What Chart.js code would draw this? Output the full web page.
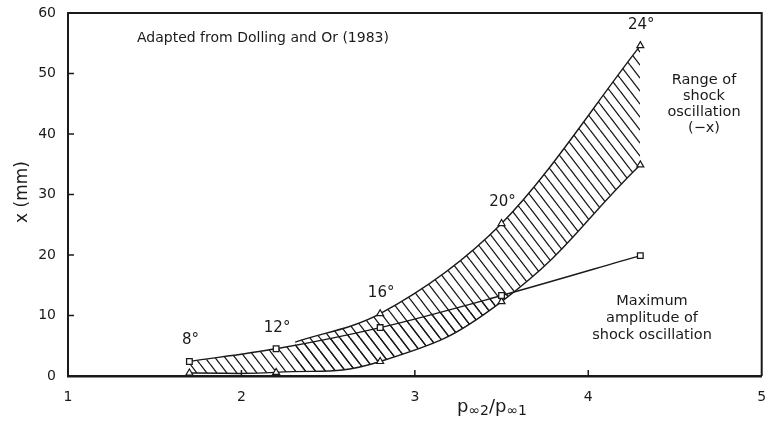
<!DOCTYPE html>
<html>
<head>
<meta charset="utf-8">
<title>Shock oscillation range</title>
<script src="https://cdn.jsdelivr.net/npm/chart.js@4.4.1/dist/chart.umd.min.js"></script>
<style>
  html, body { margin: 0; padding: 0; background: #fff; overflow: hidden; }
  canvas { display: block; }
</style>
</head>
<body>
<canvas id="shock" width="767" height="423"></canvas>
<script>
// pressure ratio p02/p01 at each ramp angle
const ratio = [1.7, 2.2, 2.8, 3.5, 4.3];
const angleLabels = ['8°', '12°', '16°', '20°', '24°'];
// maximum amplitude of shock oscillation (mm)
const maxAmplitude = [2.4, 4.5, 8.0, 13.3, 19.9];
// lower edge of the oscillation range (mm)
const rangeLower = [0.5, 0.6, 2.4, 12.3, 34.9];
// upper edge of the oscillation range (mm)
const rangeUpperX = [2.31, 2.8, 3.5, 4.3];
const rangeUpper = [5.6, 10.3, 25.2, 54.6];
const rangeUpperMarks = [false, true, true, true];

const xTicks = [1, 2, 3, 4, 5];
const yTicks = [0, 10, 20, 30, 40, 50, 60];

const INK = '#1a1a1a';
const FONT = '"DejaVu Sans", sans-serif';

function toPoints(xs, ys) {
    return xs.map((x, i) => ({ x: x, y: ys[i] }));
}

// diagonal hatch used for the oscillation band
function makeHatch() {
    var w = 10, h = 13;
    var c = document.createElement('canvas');
    c.width = w; c.height = h;
    var g = c.getContext('2d');
    g.strokeStyle = INK;
    g.lineWidth = 1.3;
    g.beginPath();
    [-w, 0, w].forEach(function (o) {
        g.moveTo(o, 0);
        g.lineTo(o + w, h);
    });
    g.stroke();
    return g.createPattern(c, 'repeat');
}
const hatch = makeHatch();

const decorations = {
    id: 'decorations',
    afterDraw(chart) {
        const ctx = chart.ctx;
        const a = chart.chartArea;
        const xs = chart.scales.x, ys = chart.scales.y;
        ctx.save();
        ctx.strokeStyle = INK;

        // top and right frame
        ctx.lineWidth = 2;
        ctx.beginPath();
        ctx.moveTo(a.left, a.top);
        ctx.lineTo(a.right, a.top);
        ctx.lineTo(a.right, a.bottom);
        ctx.stroke();

        // inward tick marks
        ctx.lineWidth = 1.5;
        ctx.beginPath();
        yTicks.slice(1, -1).forEach(function (v) {
            var py = ys.getPixelForValue(v);
            ctx.moveTo(a.left, py);
            ctx.lineTo(a.left + 6, py);
        });
        xTicks.slice(1, -1).forEach(function (v) {
            var px = xs.getPixelForValue(v);
            ctx.moveTo(px, a.bottom);
            ctx.lineTo(px, a.bottom - 6);
        });
        ctx.stroke();

        ctx.fillStyle = INK;
        ctx.textBaseline = 'middle';

        // ramp angle above the top marker of each run
        ctx.font = '15px ' + FONT;
        ctx.textAlign = 'center';
        ratio.forEach(function (r, i) {
            var top = maxAmplitude[i];
            var j = rangeUpperX.indexOf(r);
            if (j >= 0) top = Math.max(top, rangeUpper[j]);
            ctx.fillText(angleLabels[i], xs.getPixelForValue(r) + 1, ys.getPixelForValue(top) - 21);
        });

        ctx.font = '14px ' + FONT;
        ctx.textAlign = 'left';
        ctx.fillText('Adapted from Dolling and Or (1983)', 137, 38);

        ctx.font = '14.5px ' + FONT;
        ctx.textAlign = 'center';
        ['Range of', 'shock', 'oscillation', '(\u2212x)'].forEach(function (t, i) {
            ctx.fillText(t, 704, 80 + i * 16);
        });
        ['Maximum', 'amplitude of', 'shock oscillation'].forEach(function (t, i) {
            ctx.fillText(t, 652, 301 + i * 17);
        });

        // axis titles
        ctx.font = '17px ' + FONT;
        ctx.save();
        ctx.translate(23, 192);
        ctx.rotate(-Math.PI / 2);
        ctx.fillText('x (mm)', 0, 0);
        ctx.restore();

        // p∞2 / p∞1 with subscripts
        var big = '18px ' + FONT, small = '14px ' + FONT;
        var parts = [['p', big, 0], ['\u221e2', small, 4], ['/', big, 0], ['p', big, 0], ['\u221e1', small, 4]];
        var w = 0;
        parts.forEach(function (p) { ctx.font = p[1]; w += ctx.measureText(p[0]).width; });
        var x0 = 492 - w / 2;
        ctx.textAlign = 'left';
        parts.forEach(function (p) {
            ctx.font = p[1];
            ctx.fillText(p[0], x0, 407 + p[2]);
            x0 += ctx.measureText(p[0]).width;
        });

        ctx.restore();
    }
};

new Chart(document.getElementById('shock').getContext('2d'), {
    type: 'line',
    data: {
        datasets: [{
                label: 'Maximum amplitude of shock oscillation',
                data: toPoints(ratio, maxAmplitude),
                borderColor: INK,
                borderWidth: 1.4,
                pointStyle: 'rect',
                pointRadius: 4,
                pointBorderWidth: 1.3,
                pointBackgroundColor: '#fff',
                pointBorderColor: INK,
                cubicInterpolationMode: 'monotone',
                fill: false,
                order: 0
            }, {
                label: 'Range lower edge',
                data: toPoints(ratio, rangeLower),
                borderColor: INK,
                borderWidth: 1.4,
                pointStyle: 'triangle',
                pointRadius: 4,
                pointBorderWidth: 1.2,
                pointBackgroundColor: '#fff',
                pointBorderColor: INK,
                tension: 0.45,
                fill: { target: 0, above: 'rgba(0,0,0,0)', below: hatch },
                order: 1
            }, {
                label: 'Range upper edge',
                data: toPoints(rangeUpperX, rangeUpper),
                borderColor: INK,
                borderWidth: 1.4,
                pointStyle: 'triangle',
                pointRadius: rangeUpperMarks.map(m => m ? 4 : 0),
                pointBorderWidth: 1.2,
                pointBackgroundColor: '#fff',
                pointBorderColor: INK,
                cubicInterpolationMode: 'monotone',
                fill: { target: 1, above: hatch, below: 'rgba(0,0,0,0)' },
                order: 2
            }
        ]
    },
    options: {
        responsive: false,
        animation: false,
        layout: { padding: { top: 13, right: 2, left: 0, bottom: 0 } },
        plugins: {
            legend: { display: false },
            tooltip: { enabled: false }
        },
        scales: {
            x: {
                type: 'linear',
                min: xTicks[0],
                max: xTicks[xTicks.length - 1],
                afterBuildTicks: s => { s.ticks = xTicks.map(v => ({ value: v })); },
                afterFit: s => { s.height = 47; s.paddingLeft = 0; s.paddingRight = 0; },
                grid: { display: false, drawTicks: false },
                border: { display: true, color: INK, width: 2.5 },
                ticks: { color: INK, padding: 13, font: { family: FONT, size: 14 } }
            },
            y: {
                min: yTicks[0],
                max: yTicks[yTicks.length - 1],
                afterBuildTicks: s => { s.ticks = yTicks.map(v => ({ value: v })); },
                afterFit: s => { s.width = 68; s.paddingTop = 0; s.paddingBottom = 0; },
                grid: { display: false, drawTicks: false },
                border: { display: true, color: INK, width: 2 },
                ticks: { color: INK, padding: 12, font: { family: FONT, size: 14 } }
            }
        }
    },
    plugins: [decorations]
});
</script>
</body>
</html>
